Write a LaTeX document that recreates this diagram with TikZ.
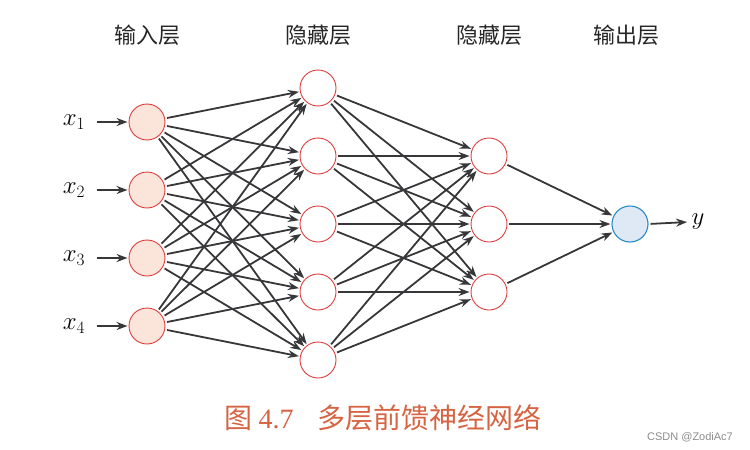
\documentclass[tikz,border=0pt]{standalone}
\usepackage{fontspec}
\newfontfamily\cjk{Noto Sans CJK SC}
\newfontfamily\wm{Liberation Sans}
\newfontfamily\capnum{Liberation Serif}
\usetikzlibrary{arrows.meta}
\definecolor{inred}{RGB}{222,60,60}
\definecolor{infill}{RGB}{251,229,219}
\definecolor{outblue}{RGB}{40,140,200}
\definecolor{outfill}{RGB}{223,233,246}
\definecolor{arr}{RGB}{55,55,58}
\definecolor{capc}{RGB}{214,100,66}
\tikzset{
  neuron/.style={circle,draw=inred,line width=0.9pt,minimum size=36pt,inner sep=0pt},
  inneuron/.style={neuron,fill=infill},
  outneuron/.style={circle,draw=outblue,line width=1.1pt,fill=outfill,minimum size=36pt,inner sep=0pt},
  conn/.style={draw=arr,line width=1.8pt,-{Stealth[length=11pt,width=8pt]},shorten <=2pt,shorten >=1pt},
  hdr/.style={font=\cjk\fontsize{22}{24}\selectfont,text=black!85},
  lbl/.style={font=\fontsize{25}{28}\selectfont}
}
\begin{document}
\begin{tikzpicture}[x=1pt,y=-1pt]
\useasboundingbox (0,0) rectangle (750,450);
% headers
\node[hdr] (h1) at (147,35) {输入层};
\node[hdr] (h2) at (318,35) {隐藏层};
\node[hdr] (h3) at (489,35) {隐藏层};
\node[hdr] (h4) at (626,35) {输出层};
% input layer
\foreach \i/\y in {1/122,2/190,3/258,4/326}{
  \node[inneuron] (i\i) at (147,\y) {};
  \node[lbl,anchor=center] (x\i) at (74,\y) {$x_{\i}$};
  \draw[conn] (x\i.east) ++(6,0) coordinate (xs\i) -- (i\i.west);
}
% hidden 1
\foreach \j/\y in {1/88,2/156,3/224,4/292,5/360}{
  \node[neuron] (a\j) at (318,\y) {};
}
% hidden 2
\foreach \k/\y in {1/156,2/224,3/292}{
  \node[neuron] (b\k) at (489,\y) {};
}
% output
\node[outneuron] (o) at (630,224) {};
\node[lbl] (yl) at (698,222) {$y$};
\draw[conn] (o.east) -- (yl.west);
% connections
\foreach \i in {1,...,4}{\foreach \j in {1,...,5}{\draw[conn] (i\i) -- (a\j);}}
\foreach \j in {1,...,5}{\foreach \k in {1,...,3}{\draw[conn] (a\j) -- (b\k);}}
\foreach \k in {1,...,3}{\draw[conn] (b\k) -- (o);}
% caption
\node[text=capc,font=\fontsize{28}{30}\selectfont] (cap) at (383,418) {{\cjk 图}\hspace{6pt}{\capnum 4.7}\hspace{24pt}{\cjk 多层前馈神经网络}};
\node[text=black!45,font=\wm\fontsize{11}{13}\selectfont] (wmk) at (690,437) {CSDN @ZodiAc7};
\end{tikzpicture}
\end{document}
